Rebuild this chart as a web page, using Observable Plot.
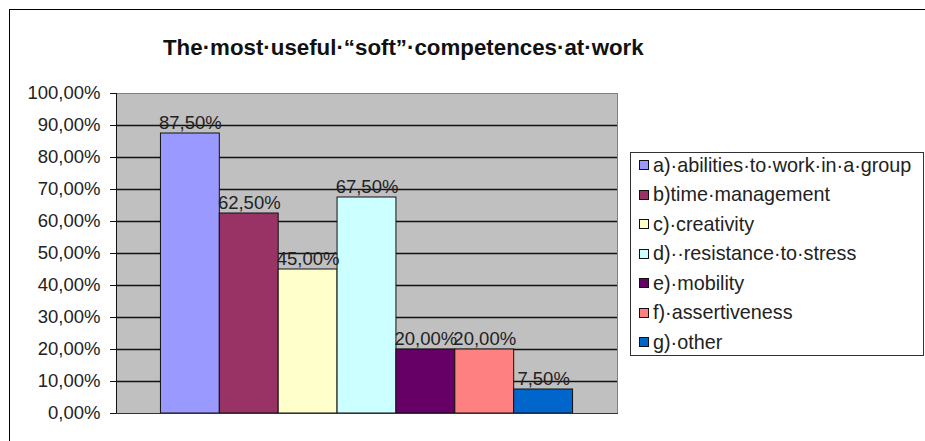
<!DOCTYPE html>
<html><head><meta charset="utf-8">
<script src="https://cdn.jsdelivr.net/npm/d3@7"></script>
<script src="https://cdn.jsdelivr.net/npm/@observablehq/plot@0.6"></script>
<style>
body{margin:0;background:#fff;font-family:"Liberation Sans",Arial,sans-serif;}
#wrap{position:relative;width:925px;height:441px;overflow:hidden;background:#fff;}
#border{position:absolute;left:9px;top:9px;width:940px;height:460px;border-left:1px solid #000;border-top:1px solid #000;}
#chart{position:absolute;left:0;top:0;}
#title{position:absolute;left:163px;top:37px;white-space:nowrap;font-size:22.3px;font-weight:bold;line-height:1;color:#111;}
#legend{position:absolute;left:630px;top:152px;width:292px;height:202px;border:1px solid #333;background:#fff;}
.item{position:absolute;left:8px;height:29px;display:flex;align-items:center;white-space:nowrap;font-size:19.8px;color:#222;}
.sw{width:8px;height:8px;border:1px solid #111;margin-right:4px;flex:none;}
</style>
</head><body>
<div id="wrap">
  <div id="border"></div>
  <div id="chart"></div>
  <div id="title"></div>
  <div id="legend"></div>
</div>
<script>
const titleText = "The·most·useful·“soft”·competences·at·work";
const categories = [
  "a)·abilities·to·work·in·a·group",
  "b)time·management",
  "c)·creativity",
  "d)··resistance·to·stress",
  "e)·mobility",
  "f)·assertiveness",
  "g)·other"
];
const values = [0.875, 0.625, 0.45, 0.675, 0.20, 0.20, 0.075];
const palette = ["#9999FF", "#993366", "#FFFFCC", "#CCFFFF", "#660066", "#FF8080", "#0066CC"];
const yTicks = [0, 0.1, 0.2, 0.3, 0.4, 0.5, 0.6, 0.7, 0.8, 0.9, 1.0];

const fmt = v => (v * 100).toFixed(2).replace(".", ",") + "%";
const data = categories.map((c, i) => ({category: c, value: values[i]}));

document.getElementById("title").textContent = titleText;

const chart = Plot.plot({
  width: 925,
  height: 441,
  marginLeft: 116,
  marginRight: 308,
  marginTop: 93,
  marginBottom: 28,
  style: {fontFamily: "'Liberation Sans', Arial, sans-serif", fontSize: "18.5px", color: "#222", background: "transparent", overflow: "visible"},
  x: {domain: categories, paddingInner: 0, paddingOuter: 0.755, round: false, axis: null},
  y: {domain: [0, 1], label: null},
  color: {domain: categories, range: palette},
  marks: [
    Plot.frame({fill: "#C0C0C0", stroke: "#808080"}),
    Plot.gridY(yTicks.filter(t => t > 0 && t < 1), {stroke: "#111", strokeOpacity: 1, strokeWidth: 1.4}),
    Plot.barY(data, {x: "category", y: "value", fill: "category", stroke: "#111", strokeWidth: 1}),
    Plot.frame({anchor: "left", stroke: "#111"}),
    Plot.frame({anchor: "bottom", stroke: "#333"}),
    Plot.axisY({ticks: yTicks, tickFormat: fmt, tickSize: 6, tickPadding: 10, stroke: "#111", fill: "#222", label: null}),
    Plot.text(data, {x: "category", y: "value", text: d => fmt(d.value), lineAnchor: "bottom", dy: -5, fill: "#222", fontSize: 18.5})
  ]
});
document.getElementById("chart").appendChild(chart);

const legend = document.getElementById("legend");
categories.forEach((c, i) => {
  const it = document.createElement("div");
  it.className = "item";
  it.style.top = (164 - 152 - 14.5 + i * 29.5) + "px";
  const sw = document.createElement("span");
  sw.className = "sw";
  sw.style.background = palette[i];
  const tx = document.createElement("span");
  tx.textContent = c;
  it.appendChild(sw);
  it.appendChild(tx);
  legend.appendChild(it);
});
</script>
</body></html>
